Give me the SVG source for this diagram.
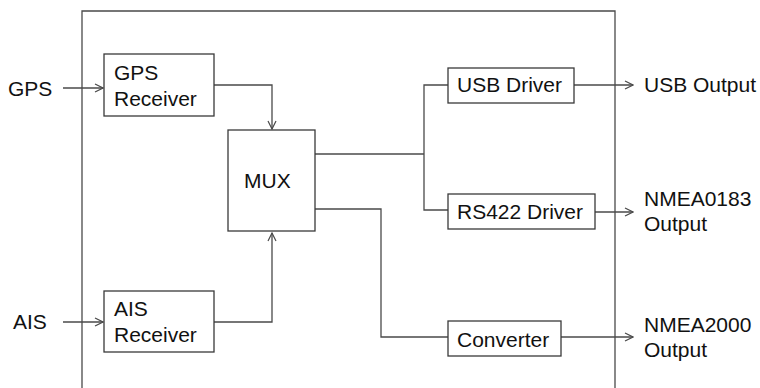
<svg xmlns="http://www.w3.org/2000/svg" width="760" height="388" viewBox="0 0 760 388">
<style>
.box{fill:#fff;stroke:#3a3a3a;stroke-width:1.3}
.ln{fill:none;stroke:#4a4a4a;stroke-width:1.3}
.ar{marker-end:url(#arr)}
text{font-family:"Liberation Sans",Arial,sans-serif;font-size:21px;fill:#111}
</style>
<defs>
<marker id="arr" viewBox="0 0 10 10" refX="9" refY="5" markerWidth="10" markerHeight="10" markerUnits="userSpaceOnUse" orient="auto">
<path d="M1,1 L9,5 L1,9" fill="none" stroke="#4a4a4a" stroke-width="1.2"/>
</marker>
</defs>
<rect width="760" height="388" fill="#fff"/>
<g id="frame"><path class="ln" d="M82,388 V11 H615 V388" stroke="#3a3a3a"/></g>
<g id="connectors">
<path class="ln ar" d="M63,88 H103"/>
<path class="ln ar" d="M63,322 H103"/>
<path class="ln ar" d="M214,85 H272 V129"/>
<path class="ln ar" d="M214,322 H272 V233"/>
<path class="ln" d="M315,154 H424"/>
<path class="ln" d="M448,85 H424 V210 H448"/>
<path class="ln" d="M315,209 H381 V337 H448"/>
<path class="ln ar" d="M574,85 H633"/>
<path class="ln ar" d="M595,212 H633"/>
<path class="ln ar" d="M561,337 H633"/>
</g>
<g id="gps"><text x="8" y="96">GPS</text></g>
<g id="ais"><text x="13" y="329">AIS</text></g>
<g id="gps-receiver"><rect class="box" x="104" y="54" width="110" height="62"/><text x="114" y="80">GPS</text><text x="114" y="106">Receiver</text></g>
<g id="ais-receiver"><rect class="box" x="104" y="291" width="110" height="61"/><text x="114" y="316">AIS</text><text x="114" y="342">Receiver</text></g>
<g id="mux"><rect class="box" x="228" y="130" width="87" height="101"/><text x="244" y="188">MUX</text></g>
<g id="usb-driver"><rect class="box" x="448" y="68" width="126" height="35"/><text x="457" y="92">USB Driver</text></g>
<g id="rs422-driver"><rect class="box" x="448" y="194" width="147" height="35"/><text x="457" y="219">RS422 Driver</text></g>
<g id="converter"><rect class="box" x="448" y="321" width="113" height="35"/><text x="457" y="347">Converter</text></g>
<g id="usb-output"><text x="644" y="92">USB Output</text></g>
<g id="nmea0183-output"><text x="644" y="206">NMEA0183</text><text x="644" y="231">Output</text></g>
<g id="nmea2000-output"><text x="644" y="332">NMEA2000</text><text x="644" y="357">Output</text></g>
</svg>
